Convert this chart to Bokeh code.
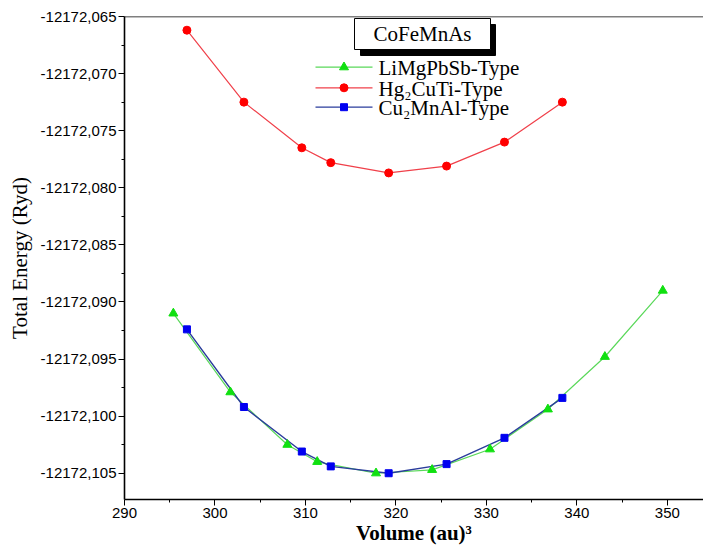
from bokeh.plotting import figure
from bokeh.models import FixedTicker, CustomJSTickFormatter, Span, Range1d
from bokeh.core.properties import value
from bokeh.embed import file_html
from bokeh.resources import INLINE

# Total energy versus cell volume for three structural types of CoFeMnAs
vol_li = [295.4, 301.7, 308.0, 311.3, 317.8, 324.0, 330.4, 336.8, 343.1, 349.5]
e_li = [-12172.0910, -12172.0979, -12172.1025, -12172.1040, -12172.1050,
        -12172.1047, -12172.1029, -12172.0994, -12172.0948, -12172.0890]

vol_hg = [296.9, 303.2, 309.6, 312.8, 319.2, 325.6, 332.0, 338.4]
e_hg = [-12172.0662, -12172.0725, -12172.0765, -12172.0778, -12172.0787,
        -12172.0781, -12172.0760, -12172.0725]

vol_cu = [296.9, 303.2, 309.6, 312.8, 319.2, 325.6, 332.0, 338.4]
e_cu = [-12172.0924, -12172.0992, -12172.1031, -12172.1044, -12172.1050,
        -12172.1042, -12172.1019, -12172.0984]

x_ticks = [290, 300, 310, 320, 330, 340, 350]
x_minor = [295, 305, 315, 325, 335, 345]
y_ticks = [-12172.065, -12172.070, -12172.075, -12172.080, -12172.085,
           -12172.090, -12172.095, -12172.100, -12172.105]
y_minor = [-12172.0675, -12172.0725, -12172.0775, -12172.0825, -12172.0875,
           -12172.0925, -12172.0975, -12172.1025, -12172.1075]

legend_title = "CoFeMnAs"
names = ["LiMgPbSb-Type", "Hg\u2082CuTi-Type", "Cu\u2082MnAl-Type"]

# canvas geometry
W, H = 703, 549
L, T, B = 124, 16, 50
frame_w = W - L
frame_h = H - T - B
X0, X1 = 290.0, 354.0
Y0, Y1 = -12172.1073, -12172.065


def xd(px):
    return X0 + (px - L) / frame_w * (X1 - X0)


def yd(py):
    return Y1 - (py - T) / frame_h * (Y1 - Y0)


p = figure(width=W, height=H, x_range=Range1d(X0, X1), y_range=Range1d(Y0, Y1),
           output_backend="svg", toolbar_location=None,
           min_border_left=L, min_border_right=0, min_border_top=T, min_border_bottom=B)
p.outline_line_color = None
p.grid.visible = False
p.background_fill_color = "white"
p.border_fill_color = "white"

GREEN, GREEN_LINE = "#10e010", "#5ad85a"
RED, RED_LINE = "#ff0000", "#f0404a"
BLUE, BLUE_LINE = "#0000f0", "#2a3c9c"

# curves
p.line(vol_li, e_li, line_color=GREEN_LINE, line_width=1.2)
p.line(vol_cu, e_cu, line_color=BLUE_LINE, line_width=1.4)
p.line(vol_hg, e_hg, line_color=RED_LINE, line_width=1.2)
p.scatter(vol_li, e_li, marker="triangle", size=9, fill_color=GREEN, line_color=GREEN)
p.scatter(vol_cu, e_cu, marker="square", size=7, fill_color=BLUE, line_color=BLUE)
p.scatter(vol_hg, e_hg, marker="circle", size=8, fill_color=RED, line_color=RED)

# axes
serif = "Liberation Serif"
sans = "Liberation Sans"

xa = p.xaxis[0]
xa.ticker = FixedTicker(ticks=x_ticks, minor_ticks=x_minor)
xa.axis_label = "Volume (au)\u00b3"
xa.axis_label_text_font = serif
xa.axis_label_text_font_size = "21px"
xa.axis_label_text_font_style = "bold"
xa.axis_label_standoff = 0
xa.major_label_text_font = sans
xa.major_label_text_font_size = "15px"
xa.major_label_standoff = 2

ya = p.yaxis[0]
ya.ticker = FixedTicker(ticks=y_ticks, minor_ticks=y_minor)
ya.formatter = CustomJSTickFormatter(code="return tick.toFixed(3).replace('.', ',');")
ya.axis_label = "Total Energy (Ryd)"
ya.axis_label_text_font = serif
ya.axis_label_text_font_size = "21px"
ya.axis_label_text_font_style = "normal"
ya.axis_label_standoff = 6
ya.major_label_text_font = sans
ya.major_label_text_font_size = "15px"
ya.major_label_standoff = 2

for ax in (xa, ya):
    ax.axis_line_color = "black"
    ax.axis_line_width = 1.6
    ax.major_tick_line_color = "black"
    ax.minor_tick_line_color = "black"
    ax.major_tick_in = 0
    ax.major_tick_out = 6
    ax.minor_tick_in = 0
    ax.minor_tick_out = 3
    ax.major_label_text_color = "black"
    ax.axis_label_text_color = "black"

# top border line
p.add_layout(Span(location=Y1, dimension="width", line_color="black", line_width=1.6))

# legend title box with drop shadow
p.quad(left=[xd(360)], right=[xd(495)], top=[yd(24)], bottom=[yd(55)],
       fill_color="black", line_color="black")
p.quad(left=[xd(354)], right=[xd(490)], top=[yd(18)], bottom=[yd(49)],
       fill_color="white", line_color="black", line_width=1)
p.text(x=[xd(422)], y=[yd(33.5)], text=[legend_title], text_align="center",
       text_baseline="middle", text_font=value(serif), text_font_size="21px",
       text_color="black")

# legend entries
rows = [66.7, 87.3, 106.7]
styles = [(GREEN_LINE, GREEN, "triangle", 9), (RED_LINE, RED, "circle", 8),
          (BLUE_LINE, BLUE, "square", 7)]
for name, ry, (lc, mc, mk, ms) in zip(names, rows, styles):
    p.line([xd(315), xd(372)], [yd(ry), yd(ry)], line_color=lc, line_width=1.2)
    p.scatter([xd(343.5)], [yd(ry)], marker=mk, size=ms, fill_color=mc, line_color=mc)
    p.text(x=[xd(378)], y=[yd(ry + 1)], text=[name], text_align="left",
           text_baseline="middle", text_font=value(serif), text_font_size="21px",
           text_color="black")

open("out.html", "w").write(file_html(p, INLINE))
